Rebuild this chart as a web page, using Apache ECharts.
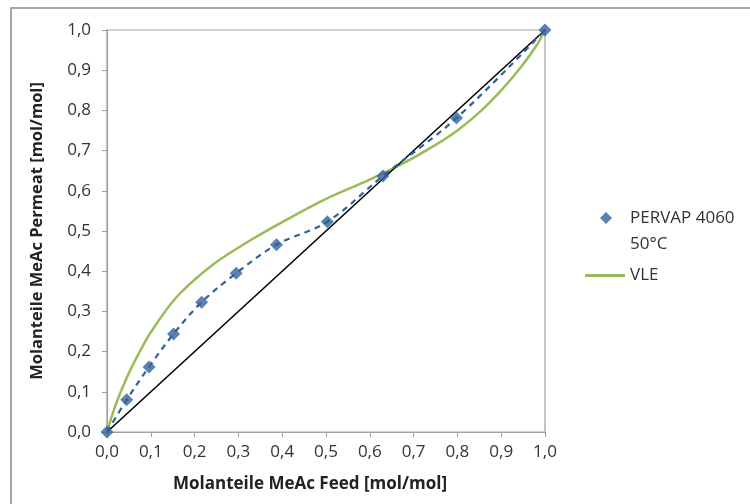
<!DOCTYPE html>
<html>
<head>
<meta charset="utf-8">
<script src="https://cdn.jsdelivr.net/npm/echarts@6/dist/echarts.min.js"></script>
<style>html,body{margin:0;padding:0;background:#fff}#c{width:750px;height:504px}</style>
</head>
<body>
<div id="c"></div>
<script>
// Measured data: PERVAP 4060, 50°C
var pervapX = [0, 0.045, 0.096, 0.152, 0.216, 0.295, 0.387, 0.503, 0.63, 0.798, 1.0];
var pervapY = [0, 0.08, 0.162, 0.244, 0.323, 0.395, 0.466, 0.523, 0.637, 0.781, 1.0];
// VLE curve
var vleX = [0, 0.02, 0.045, 0.07, 0.1, 0.16, 0.24, 0.32, 0.4, 0.5, 0.6, 0.676, 0.753, 0.8, 0.85, 0.9, 0.943, 0.981, 1.0];
var vleY = [0, 0.068, 0.135, 0.19, 0.248, 0.337, 0.415, 0.472, 0.522, 0.58, 0.628, 0.668, 0.716, 0.75, 0.795, 0.85, 0.905, 0.962, 1.0];
// Diagonal x = y
var diagX = [0, 1];
var diagY = [0, 1];
var pervapName = 'PERVAP 4060\n50°C';
var vleName = 'VLE';
var xTitle = 'Molanteile MeAc Feed [mol/mol]';
var yTitle = 'Molanteile MeAc Permeat [mol/mol]';

function zip(a, b) { return a.map(function (v, i) { return [v, b[i]]; }); }
function fmt(v) { return v.toFixed(1).replace('.', ','); }

var FONT = 'Open Sans';
var blue = '#31629B';
var chart = echarts.init(document.getElementById('c'), null, { renderer: 'canvas' });
chart.setOption({
  backgroundColor: '#fff',
  animation: false,
  textStyle: { fontFamily: FONT },
  graphic: [{
    type: 'rect', shape: { x: 11, y: 8, width: 800, height: 600 },
    style: { fill: 'none', stroke: '#8a8a8a', lineWidth: 1.5 }, silent: true
  }],
  grid: { left: 107, top: 30, right: 205, bottom: 72, show: true, borderColor: '#a0a0a0', borderWidth: 1.2 },
  legend: [{
    orient: 'vertical', left: 595, top: 174, itemWidth: 38, itemHeight: 12,
    data: [{ name: pervapName, icon: 'path://M0,-1L1,0L0,1L-1,0Z' }],
    formatter: function (n) { return ' \n' + n; },
    textStyle: { fontFamily: FONT, fontSize: 17, color: '#333', lineHeight: 26 }
  }, {
    orient: 'vertical', left: 580, top: 262, itemWidth: 40, itemHeight: 3,
    data: [{ name: vleName, icon: 'rect' }],
    textStyle: { fontFamily: FONT, fontSize: 17, color: '#333' }
  }],
  xAxis: {
    type: 'value', min: 0, max: 1, interval: 0.1,
    name: xTitle, nameLocation: 'middle', nameGap: 44,
    nameTextStyle: { fontFamily: FONT, fontSize: 17, fontWeight: 'bold', color: '#222', padding: [0, 32, 0, 0] },
    axisLine: { show: true, lineStyle: { color: '#a0a0a0', width: 1.2 } },
    axisTick: { show: true, length: 5, inside: false, lineStyle: { color: '#a0a0a0' } },
    axisLabel: { fontFamily: FONT, fontSize: 17, color: '#333', margin: 12, formatter: fmt },
    splitLine: { show: false }
  },
  yAxis: {
    type: 'value', min: 0, max: 1, interval: 0.1,
    name: yTitle, nameLocation: 'middle', nameGap: 61, nameRotate: 90,
    nameTextStyle: { fontFamily: FONT, fontSize: 16.5, fontWeight: 'bold', color: '#222' },
    axisLine: { show: true, lineStyle: { color: '#a0a0a0', width: 1.2 } },
    axisTick: { show: true, length: 5, inside: false, lineStyle: { color: '#a0a0a0' } },
    axisLabel: { fontFamily: FONT, fontSize: 17, color: '#333', margin: 16, formatter: fmt },
    splitLine: { show: false }
  },
  series: [{
    name: vleName, type: 'line', data: zip(vleX, vleY), smooth: 0.35,
    symbol: 'none', lineStyle: { color: '#9BBB59', width: 2.5 }, itemStyle: { color: '#9BBB59' }, z: 2
  }, {
    name: 'diag', type: 'line', data: zip(diagX, diagY), symbol: 'none',
    lineStyle: { color: '#000', width: 1.6 }, z: 3
  }, {
    name: 'trend', type: 'line', data: zip(pervapX, pervapY), smooth: 0.35,
    symbol: 'none', lineStyle: { color: blue, width: 2.2, type: [6, 5] }, z: 4
  }, {
    name: pervapName, type: 'scatter', data: zip(pervapX, pervapY), symbol: 'diamond', symbolSize: 13,
    itemStyle: { color: blue }, z: 5
  }]
});
</script>
</body>
</html>
